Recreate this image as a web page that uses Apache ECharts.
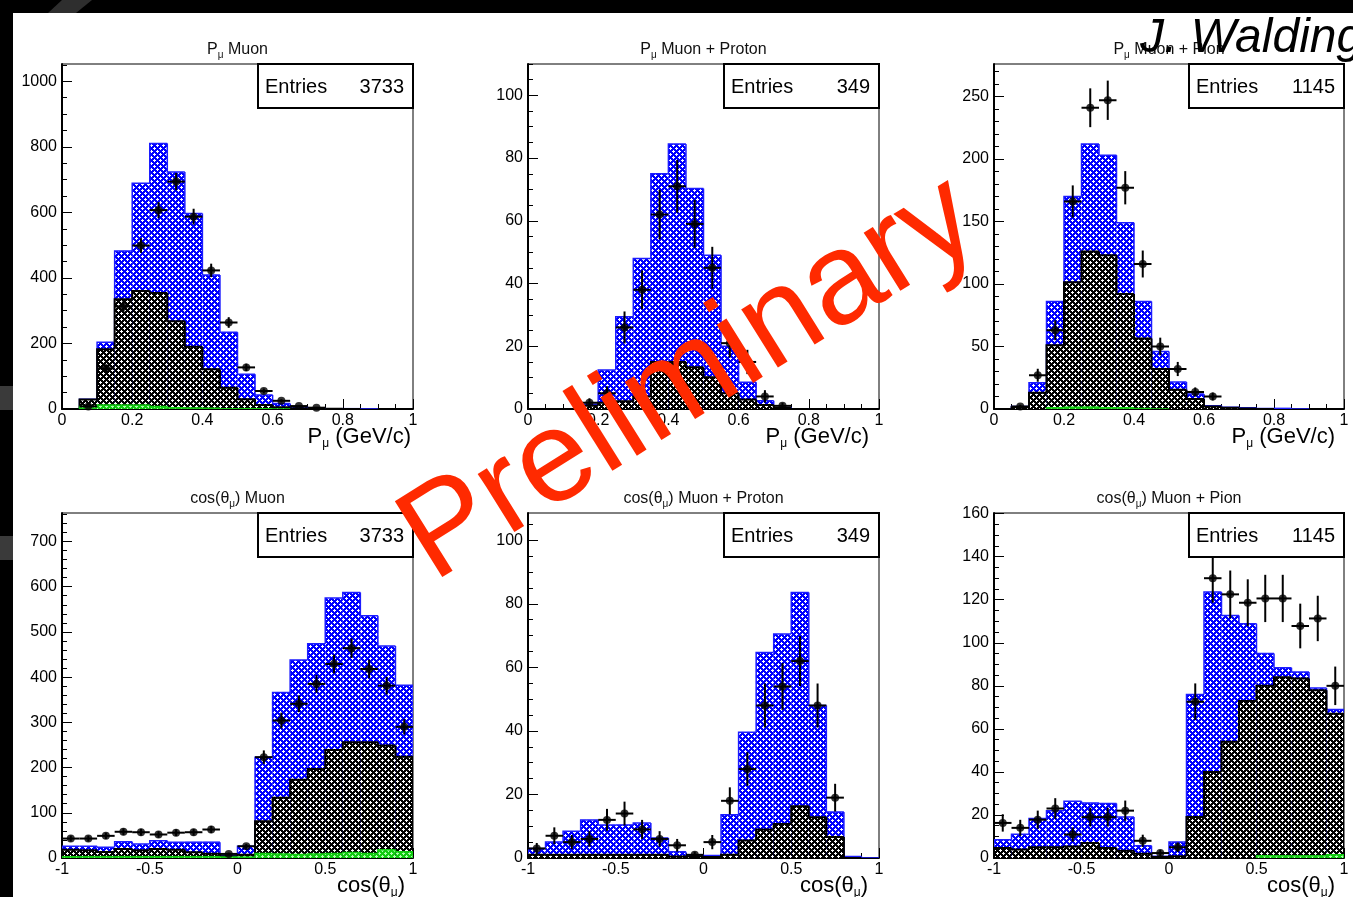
<!DOCTYPE html>
<html>
<head>
<meta charset="utf-8">
<script src="https://cdn.jsdelivr.net/npm/echarts@6/dist/echarts.min.js"></script>
<style>
html, body { margin: 0; padding: 0; background: #fff; }
#main { width: 1353px; height: 897px; }
</style>
</head>
<body>
<div id="main"></div>
<script>
var FONT = 'Liberation Sans, Arial, Helvetica, sans-serif';

// bin edges
var pEdges = [0, 0.05, 0.1, 0.15, 0.2, 0.25, 0.3, 0.35, 0.4, 0.45, 0.5, 0.55, 0.6, 0.65, 0.7, 0.75, 0.8, 0.85, 0.9, 0.95, 1];
var cEdges = [-1, -0.9, -0.8, -0.7, -0.6, -0.5, -0.4, -0.3, -0.2, -0.1, 0, 0.1, 0.2, 0.3, 0.4, 0.5, 0.6, 0.7, 0.8, 0.9, 1];

// x tick labels
var pXTicks = [0, 0.2, 0.4, 0.6, 0.8, 1];
var cXTicks = [-1, -0.5, 0, 0.5, 1];

// y tick labels
var pMuYTicks = [0, 200, 400, 600, 800, 1000];
var pMuPYTicks = [0, 20, 40, 60, 80, 100];
var pMuPiYTicks = [0, 50, 100, 150, 200, 250];
var cMuYTicks = [0, 100, 200, 300, 400, 500, 600, 700];
var cMuPYTicks = [0, 20, 40, 60, 80, 100];
var cMuPiYTicks = [0, 20, 40, 60, 80, 100, 120, 140, 160];

// P_mu Muon
var pMuGreen = [0, 8, 12, 12, 12, 8, 4, 3, 2, 1, 1, 0.5, 0, 0, 0, 0, 0, 0, 0, 0];
var pMuBlack = [0, 21, 170, 323, 348, 346, 264, 187, 119, 64, 29, 11.5, 5, 2, 1, 0.5, 0, 0, 0, 0];
var pMuBlue  = [0, 1, 22, 147, 329, 456, 455, 407, 288, 169, 76, 31, 12, 5, 2, 0.5, 1, 0, 0, 0];
var pMuData  = [0, 8, 124, 313, 499, 607, 694, 587, 423, 264, 127, 55, 25, 9, 4, 0, 0, 0, 0, 0];

// P_mu Muon + Proton
var pMuPGreen = [0, 0, 0, 0, 0, 0, 0, 0, 0, 0, 0, 0, 0, 0, 0, 0, 0, 0, 0, 0];
var pMuPBlack = [0, 0, 0, 1, 2, 2.5, 4, 15, 15, 13.3, 10.1, 5, 3, 1.3, 0.3, 0, 0, 0, 0, 0];
var pMuPBlue  = [0, 0, 0, 0.5, 10.4, 26.9, 44, 60, 69.5, 57, 38.9, 15, 5.5, 1.3, 0.2, 0, 0, 0, 0, 0];
var pMuPData  = [0, 0, 0, 2, 5, 26, 38, 62, 71, 59, 45, 21, 15, 4, 1, 0, 0, 0, 0, 0];

// P_mu Muon + Pion
var pMuPiGreen = [0, 0, 0, 1, 1.5, 1.5, 1, 1, 0.5, 0, 0, 0, 0, 0, 0, 0, 0, 0, 0, 0];
var pMuPiBlack = [0, 1.5, 13, 50, 100, 124.5, 122, 91, 56, 32, 15.5, 8, 2, 1, 0.5, 0, 0, 0, 0, 0];
var pMuPiBlue  = [0, 0.5, 8, 35, 68.5, 86, 80, 57, 29.5, 14, 6.1, 4, 0.7, 0.5, 0.5, 0.5, 0.5, 0, 0, 0];
var pMuPiData  = [0, 2, 27, 63, 166, 241, 247, 177, 116, 50, 32, 13.6, 10, 0, 0, 0, 0, 0, 0, 0];

// cos(theta_mu) Muon
var cMuGreen = [3, 3, 3, 3, 3, 3, 3, 3, 3, 2, 2, 10, 9, 8, 9, 10, 12, 10, 18, 14];
var cMuBlack = [15, 14, 10, 17, 14, 17, 15, 9.5, 6.6, 2, 5, 71, 124, 165, 188, 229, 244, 246, 231, 210];
var cMuBlue  = [8, 9, 10.6, 16, 14, 18, 17, 22.5, 25.4, 2, 19, 142, 233, 265, 277, 336, 331, 280, 220, 158];
var cMuData  = [43, 43, 49, 58, 57, 52, 56, 57, 63, 9, 26, 223, 304, 341, 385, 429, 464, 418, 381, 290];

// cos(theta_mu) Muon + Proton
var cMuPGreen = [0, 0, 0, 0, 0, 0, 0, 0, 0, 0, 0, 0, 0, 0, 0, 0, 0, 0, 0, 0];
var cMuPBlack = [1, 1, 1, 1, 1, 1, 1, 1, 0.5, 0.5, 0.3, 1, 5.5, 9, 10.7, 16.3, 12.8, 6.6, 0, 0];
var cMuPBlue  = [2, 4, 7.4, 11, 9.4, 9.4, 10, 5.3, 1.5, 0.5, 0.5, 12.6, 34.1, 55.7, 59.8, 67.3, 35.2, 7.9, 0.5, 0];
var cMuPData  = [3, 7, 5, 6, 12, 14, 9, 6, 4, 1, 5, 18, 28, 48, 54, 62, 48, 19, 0, 0];

// cos(theta_mu) Muon + Pion
var cMuPiGreen = [0, 0, 0, 0, 0, 0, 0, 0, 0, 0, 0, 0, 0, 0, 0, 1, 1, 1, 1, 1.5];
var cMuPiBlack = [4.6, 3.9, 5, 5, 5.4, 7, 4.7, 3.4, 2, 0.5, 0.8, 19, 40, 54, 72.9, 79, 83, 82.4, 77, 65.5];
var cMuPiBlue  = [3.9, 7.1, 13.3, 17, 21, 18.6, 20.6, 15.6, 3.7, 0.3, 6.6, 57, 83.6, 58.7, 35.9, 15, 4.4, 3, 1, 2];
var cMuPiData  = [16.3, 14, 17.8, 23, 10.9, 19, 19, 22, 8, 2.3, 5, 72.6, 130, 122.5, 118.6, 120.6, 120.6, 107.8, 111.3, 80];

var entries = ['3733', '349', '1145', '3733', '349', '1145'];

var panels = [
    {title: '{n|P}{s|μ}{n| Muon}', xName: 'p', edges: pEdges, xTicks: pXTicks, xMinor: 0.05, yTicks: pMuYTicks, yMinor: 50, yMax: 1053,
     green: pMuGreen, black: pMuBlack, blue: pMuBlue, data: pMuData, left: 62, top: 64, w: 351, nameX: 411},
    {title: '{n|P}{s|μ}{n| Muon + Proton}', xName: 'p', edges: pEdges, xTicks: pXTicks, xMinor: 0.05, yTicks: pMuPYTicks, yMinor: 5, yMax: 110,
     green: pMuPGreen, black: pMuPBlack, blue: pMuPBlue, data: pMuPData, left: 528, top: 64, w: 351, nameX: 869},
    {title: '{n|P}{s|μ}{n| Muon + Pion}', xName: 'p', edges: pEdges, xTicks: pXTicks, xMinor: 0.05, yTicks: pMuPiYTicks, yMinor: 10, yMax: 276,
     green: pMuPiGreen, black: pMuPiBlack, blue: pMuPiBlue, data: pMuPiData, left: 994, top: 64, w: 350, nameX: 1335},
    {title: '{n|cos(θ}{s|μ}{n|) Muon}', xName: 'c', edges: cEdges, xTicks: cXTicks, xMinor: 0.1, yTicks: cMuYTicks, yMinor: 20, yMax: 763,
     green: cMuGreen, black: cMuBlack, blue: cMuBlue, data: cMuData, left: 62, top: 513, w: 351, nameX: 405},
    {title: '{n|cos(θ}{s|μ}{n|) Muon + Proton}', xName: 'c', edges: cEdges, xTicks: cXTicks, xMinor: 0.1, yTicks: cMuPYTicks, yMinor: 5, yMax: 108.6,
     green: cMuPGreen, black: cMuPBlack, blue: cMuPBlue, data: cMuPData, left: 528, top: 513, w: 351, nameX: 868},
    {title: '{n|cos(θ}{s|μ}{n|) Muon + Pion}', xName: 'c', edges: cEdges, xTicks: cXTicks, xMinor: 0.1, yTicks: cMuPiYTicks, yMinor: 5, yMax: 160.3,
     green: cMuPiGreen, black: cMuPiBlack, blue: cMuPiBlue, data: cMuPiData, left: 994, top: 513, w: 350, nameX: 1335}
];
var PH = 345;

function makePattern(base, dot) {
    var c = document.createElement('canvas');
    c.width = 6; c.height = 6;
    var g = c.getContext('2d');
    g.fillStyle = base; g.fillRect(0, 0, 6, 6);
    g.fillStyle = dot;
    [[1, 1], [4, 4]].forEach(function (p) {
        g.fillRect(p[0], p[1] - 1, 1, 3);
        g.fillRect(p[0] - 1, p[1], 3, 1);
    });
    return {image: c, repeat: 'repeat'};
}
var blueFill = makePattern('#0000ff', '#ffffff');
var blackFill = makePattern('#000000', '#ffffff');
var greenFill = makePattern('#11cc11', '#b0ffb0');

function minors(lo, hi, step, majors) {
    var out = [];
    var k0 = Math.ceil(lo / step - 1e-9), k1 = Math.floor(hi / step + 1e-9);
    for (var k = k0; k <= k1; k++) {
        var v = Math.round(k * step * 1e6) / 1e6;
        if (majors.indexOf(v) < 0) out.push(v);
    }
    return out;
}

function histRender(fill, stroke, lw) {
    return function (params, api) {
        var x0 = api.value(0), x1 = api.value(1), top = api.value(2), prev = api.value(3), last = api.value(4);
        if (top <= 0 && prev <= 0) return;
        var a = api.coord([x0, 0]), b = api.coord([x1, top]);
        var children = [];
        if (top > 0) {
            children.push({type: 'rect', shape: {x: a[0], y: b[1], width: b[0] - a[0], height: a[1] - b[1]}, style: {fill: fill}});
        }
        var pts = [api.coord([x0, prev]), api.coord([x0, top]), b];
        if (last) pts.push(api.coord([x1, 0]));
        children.push({type: 'polyline', shape: {points: pts}, style: {stroke: stroke, lineWidth: lw, fill: null}});
        return {type: 'group', children: children};
    };
}

function errRender(params, api) {
    var x = api.value(0), y = api.value(1), hw = api.value(2), e = api.value(3);
    var l = api.coord([x - hw, y]), r = api.coord([x + hw, y]);
    var t = api.coord([x, y + e]), d = api.coord([x, Math.max(0, y - e)]);
    return {type: 'group', children: [
        {type: 'line', shape: {x1: l[0], y1: l[1], x2: r[0], y2: r[1]}, style: {stroke: '#000', lineWidth: 2}},
        {type: 'line', shape: {x1: t[0], y1: t[1], x2: d[0], y2: d[1]}, style: {stroke: '#000', lineWidth: 2}}
    ]};
}

function textEl(x, y, text, size, align, extra) {
    var st = {text: text, font: size + 'px ' + FONT, fill: '#000', align: align, verticalAlign: 'middle'};
    for (var k in extra) st[k] = extra[k];
    return {type: 'text', x: x, y: y, z: 60, style: st};
}

var grids = [], xAxes = [], yAxes = [], series = [], graphics = [];

graphics.push({type: 'rect', z: 50, shape: {x: 0, y: 0, width: 1353, height: 13}, style: {fill: '#000'}});
graphics.push({type: 'rect', z: 50, shape: {x: 0, y: 0, width: 13, height: 897}, style: {fill: '#000'}});
graphics.push({type: 'rect', z: 51, shape: {x: 0, y: 386, width: 13, height: 24}, style: {fill: '#3a3a3a'}});
graphics.push({type: 'rect', z: 51, shape: {x: 0, y: 536, width: 13, height: 24}, style: {fill: '#3a3a3a'}});
graphics.push({type: 'polygon', z: 51, shape: {points: [[48, 13], [62, 0], [92, 0], [76, 13]]}, style: {fill: '#2e2e2e'}});

panels.forEach(function (p, i) {
    var xMin = p.edges[0], xMax = p.edges[p.edges.length - 1];
    grids.push({left: p.left, top: p.top, width: p.w, height: PH, show: true, borderColor: '#000', borderWidth: 1,
        backgroundColor: '#fff', outerBoundsMode: 'none', containLabel: false});
    var labelStyle = {show: true, color: '#000', fontFamily: FONT, fontSize: 16, formatter: function (v) { return String(v); }};
    xAxes.push({type: 'value', gridIndex: i, position: 'bottom', min: xMin, max: xMax,
        axisLine: {show: true, onZero: false, lineStyle: {color: '#000', width: 2}},
        axisTick: {show: true, inside: true, length: 10, customValues: p.xTicks, lineStyle: {color: '#000', width: 1}},
        axisLabel: Object.assign({margin: 4, customValues: p.xTicks}, labelStyle),
        splitLine: {show: false}});
    xAxes.push({type: 'value', gridIndex: i, position: 'bottom', min: xMin, max: xMax,
        axisLine: {show: false},
        axisTick: {show: true, inside: true, length: 5, customValues: minors(xMin, xMax, p.xMinor, p.xTicks), lineStyle: {color: '#000', width: 1}},
        axisLabel: {show: false}, splitLine: {show: false}});
    yAxes.push({type: 'value', gridIndex: i, position: 'left', min: 0, max: p.yMax,
        axisLine: {show: true, onZero: false, lineStyle: {color: '#000', width: 2}},
        axisTick: {show: true, inside: true, length: 10, customValues: p.yTicks, lineStyle: {color: '#000', width: 1}},
        axisLabel: Object.assign({margin: 5, customValues: p.yTicks}, labelStyle),
        splitLine: {show: false}});
    yAxes.push({type: 'value', gridIndex: i, position: 'left', min: 0, max: p.yMax,
        axisLine: {show: false, onZero: false},
        axisTick: {show: true, inside: true, length: 5, customValues: minors(0, p.yMax, p.yMinor, p.yTicks), lineStyle: {color: '#000', width: 1}},
        axisLabel: {show: false}, splitLine: {show: false}});
    var xi = i * 2, yi = i * 2;

    // stacked tops
    var gTop = [], kTop = [], bTop = [];
    for (var j = 0; j < p.green.length; j++) {
        gTop.push(p.green[j]);
        kTop.push(p.green[j] + p.black[j]);
        bTop.push(p.green[j] + p.black[j] + p.blue[j]);
    }
    function histData(tops) {
        return tops.map(function (t, j) {
            return [p.edges[j], p.edges[j + 1], t, j > 0 ? tops[j - 1] : 0, j === tops.length - 1 ? 1 : 0];
        });
    }
    var layers = [[bTop, blueFill, '#1c1cff', 1.5], [kTop, blackFill, '#000', 2], [gTop, greenFill, '#11cc11', 1.5]];
    layers.forEach(function (L) {
        series.push({type: 'custom', xAxisIndex: xi, yAxisIndex: yi, renderItem: histRender(L[1], L[2], L[3]),
            encode: {x: [0, 1], y: 2}, data: histData(L[0]), clip: true, silent: true});
    });
    var pts = [], errs = [];
    p.data.forEach(function (v, j) {
        if (v <= 0) return;
        var xc = (p.edges[j] + p.edges[j + 1]) / 2, hw = (p.edges[j + 1] - p.edges[j]) / 2;
        pts.push([xc, v]);
        errs.push([xc, v, hw, Math.sqrt(v)]);
    });
    series.push({type: 'custom', xAxisIndex: xi, yAxisIndex: yi, renderItem: errRender, encode: {x: 0, y: 1}, data: errs, silent: true});
    series.push({type: 'scatter', xAxisIndex: xi, yAxisIndex: yi, symbol: 'circle', symbolSize: 8,
        itemStyle: {color: '#000'}, data: pts, silent: true});

    // title
    var ty = p.top - 14;
    graphics.push(textEl(p.left + p.w / 2, ty, p.title, 16, 'center', {rich: {
        n: {fontSize: 16, fontFamily: FONT, lineHeight: 20, fill: '#111'},
        s: {fontSize: 10, fontFamily: FONT, lineHeight: 10, verticalAlign: 'bottom', fill: '#111'}}}));
    // x axis title
    var nameTxt = p.xName === 'p' ? '{n|P}{s|μ}{n| (GeV/c)}' : '{n|cos(θ}{s|μ}{n|)}';
    graphics.push(textEl(p.nameX, p.top + PH + 28, nameTxt, 22, 'right', {rich: {
        n: {fontSize: 22, fontFamily: FONT, lineHeight: 26, fill: '#000'},
        s: {fontSize: 12, fontFamily: FONT, lineHeight: 8, verticalAlign: 'bottom', fill: '#000'}}}));
    // stats box
    var bx = p.left + p.w - 155, by = p.top;
    graphics.push({type: 'rect', z: 55, shape: {x: bx, y: by, width: 155, height: 44}, style: {fill: '#fff', stroke: '#000', lineWidth: 2}});
    graphics.push(textEl(bx + 7, by + 23, 'Entries', 20, 'left'));
    graphics.push(textEl(bx + 146, by + 23, entries[i], 20, 'right'));
});

graphics.push({type: 'text', z: 70, x: 1140, y: 39, style: {text: 'J. Walding', font: 'italic 48px ' + FONT, fill: '#000', align: 'left', verticalAlign: 'middle'}});
graphics.push({type: 'text', z: 80, x: 690, y: 380, rotation: 32 * Math.PI / 180,
    style: {text: 'Preliminary', font: '130px ' + FONT, fill: '#ff2a00', align: 'center', verticalAlign: 'middle'}});

var dom = document.getElementById('main');
var myChart = echarts.init(dom, null, {renderer: 'canvas', width: 1353, height: 897});
var option = {
    animation: false,
    backgroundColor: '#fff',
    grid: grids,
    xAxis: xAxes,
    yAxis: yAxes,
    series: series,
    graphic: {elements: graphics}
};
myChart.setOption(option, true);
</script>
</body>
</html>
